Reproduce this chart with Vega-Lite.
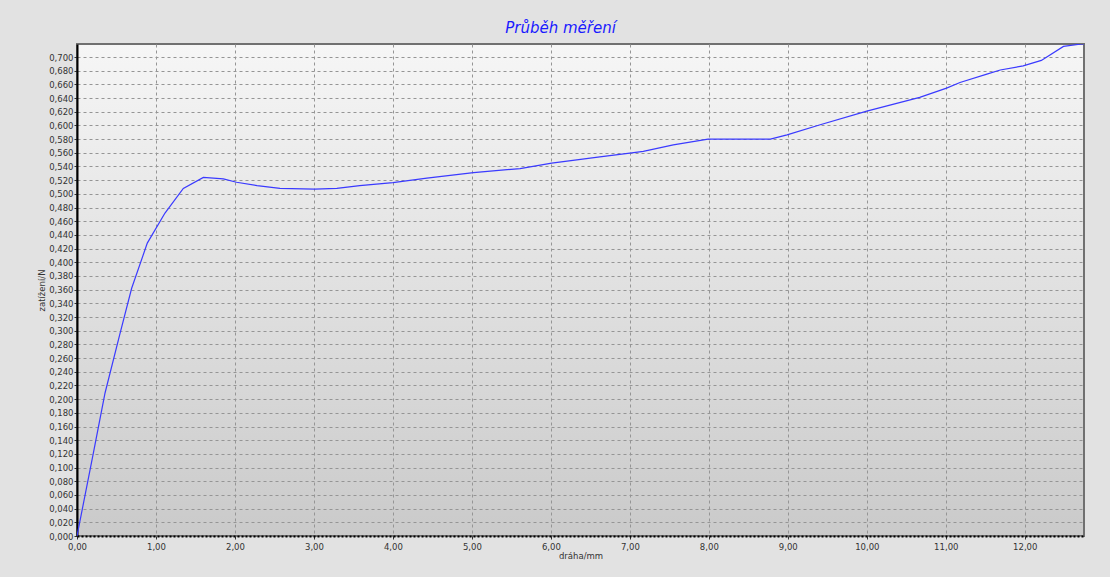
{
  "$schema": "https://vega.github.io/schema/vega-lite/v6.json",
  "autosize": "none",
  "width": 1007,
  "height": 492,
  "padding": {"left": 77, "top": 44, "right": 26, "bottom": 41},
  "background": "#e2e2e2",
  "title": {
    "text": "Průběh měření",
    "font": "DejaVu Sans",
    "fontSize": 15,
    "fontStyle": "italic",
    "fontWeight": "normal",
    "color": "#1a1aff",
    "dx": -20,
    "offset": 8
  },
  "config": {
    "view": {
      "stroke": "#707070",
      "strokeWidth": 2,
      "fill": {
        "gradient": "linear",
        "x1": 0, "y1": 0, "x2": 0, "y2": 1,
        "stops": [
          {"offset": 0, "color": "#f6f6f6"},
          {"offset": 1, "color": "#cacaca"}
        ]
      }
    },
    "axis": {
      "labelFont": "DejaVu Sans",
      "labelFontSize": 8.5,
      "labelColor": "#333333",
      "labelFlush": false,
      "titleFont": "DejaVu Sans",
      "titleFontSize": 8.5,
      "titleFontWeight": "normal",
      "titleColor": "#333333",
      "gridColor": "#959595",
      "gridDash": [3, 3],
      "gridWidth": 1,
      "gridOpacity": 1,
      "tickColor": "#333333",
      "tickSize": 3,
      "domainColor": "#000000",
      "domainWidth": 2
    }
  },
  "data": {
    "values": [
      {"x": 0.0, "y": 0.0},
      {"x": 0.207, "y": 0.121},
      {"x": 0.355, "y": 0.209},
      {"x": 0.545, "y": 0.296},
      {"x": 0.692, "y": 0.362},
      {"x": 0.89, "y": 0.428},
      {"x": 1.114, "y": 0.472},
      {"x": 1.346, "y": 0.508},
      {"x": 1.6, "y": 0.524},
      {"x": 1.853, "y": 0.522},
      {"x": 2.02, "y": 0.517},
      {"x": 2.28, "y": 0.512},
      {"x": 2.57, "y": 0.508},
      {"x": 3.01, "y": 0.507},
      {"x": 3.29, "y": 0.508},
      {"x": 3.58, "y": 0.512},
      {"x": 4.0, "y": 0.5165},
      {"x": 4.43, "y": 0.523},
      {"x": 5.02, "y": 0.531},
      {"x": 5.61, "y": 0.537},
      {"x": 6.01, "y": 0.545},
      {"x": 6.62, "y": 0.554},
      {"x": 7.0, "y": 0.5595},
      {"x": 7.17, "y": 0.562},
      {"x": 7.55, "y": 0.5716},
      {"x": 7.99, "y": 0.58},
      {"x": 8.78, "y": 0.58},
      {"x": 8.99, "y": 0.5863},
      {"x": 9.41, "y": 0.601},
      {"x": 10.0, "y": 0.621},
      {"x": 10.67, "y": 0.641},
      {"x": 11.01, "y": 0.6545},
      {"x": 11.18, "y": 0.6627},
      {"x": 11.52, "y": 0.675},
      {"x": 11.69, "y": 0.681},
      {"x": 11.98, "y": 0.687},
      {"x": 12.21, "y": 0.695},
      {"x": 12.49, "y": 0.7155},
      {"x": 12.72, "y": 0.719},
      {"x": 12.75, "y": 0.719}
    ]
  },
  "mark": {"type": "line", "color": "#3a3aff", "strokeWidth": 1.2, "clip": true},
  "encoding": {
    "x": {
      "field": "x",
      "type": "quantitative",
      "scale": {"domain": [0, 12.75], "nice": false, "zero": false},
      "axis": {
        "title": "dráha/mm",
        "values": [0, 1, 2, 3, 4, 5, 6, 7, 8, 9, 10, 11, 12],
        "labelExpr": "replace(format(datum.value, '.2f'), '.', ',')",
        "domainDash": [2, 2],
        "labelPadding": 3,
        "titlePadding": 1
      }
    },
    "y": {
      "field": "y",
      "type": "quantitative",
      "scale": {"domain": [0, 0.719], "nice": false, "zero": false},
      "axis": {
        "title": "zatížení/N",
        "values": [0, 0.02, 0.04, 0.06, 0.08, 0.1, 0.12, 0.14, 0.16, 0.18, 0.2, 0.22, 0.24, 0.26, 0.28, 0.3, 0.32, 0.34, 0.36, 0.38, 0.4, 0.42, 0.44, 0.46, 0.48, 0.5, 0.52, 0.54, 0.56, 0.58, 0.6, 0.62, 0.64, 0.66, 0.68, 0.7],
        "labelExpr": "replace(format(datum.value, '.3f'), '.', ',')",
        "labelPadding": 1,
        "titlePadding": 2
      }
    }
  }
}
